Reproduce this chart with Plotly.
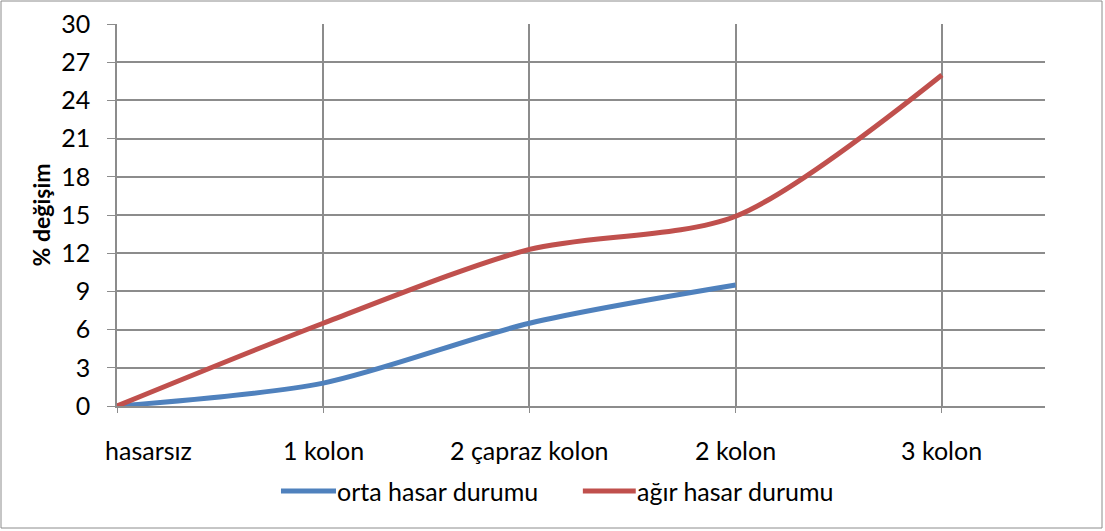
import plotly.graph_objects as go

categories = ["hasarsız", "1 kolon", "2 çapraz kolon", "2 kolon", "3 kolon"]
orta_hasar = [0, 1.8, 6.5, 9.5]
agir_hasar = [0, 6.5, 12.3, 14.9, 26.0]
y_ticks = [0, 3, 6, 9, 12, 15, 18, 21, 24, 27, 30]

FONT = "Lato"
GRID = "#8c8c8c"
BLUE = "#4F81BD"
RED = "#C0504D"

series = [
    ("orta hasar durumu", orta_hasar, BLUE),
    ("ağır hasar durumu", agir_hasar, RED),
]

fig = go.Figure()
for name, vals, color in series:
    fig.add_trace(go.Scatter(
        x=list(range(len(vals))), y=vals, mode="lines", name=name,
        line=dict(color=color, width=5, shape="spline", smoothing=0.8),
        showlegend=False))

# category labels under the axis
for i, lab in enumerate(categories):
    fig.add_annotation(x=i, y=0, xref="x", yref="y", text=lab, showarrow=False,
                       yshift=-44, xshift=31 if i == 0 else 0,
                       font=dict(family=FONT, size=25, color="#000"))

# legend: long line swatch followed by the series name
legend_slots = [(0.1767, 0.236), (0.502, 0.559)]
for (name, _, color), (sx0, sx1) in zip(series, legend_slots):
    fig.add_shape(type="line", xref="paper", yref="paper", x0=sx0, x1=sx1,
                  y0=-0.2225, y1=-0.2225, line=dict(color=color, width=5))
    fig.add_annotation(xref="paper", yref="paper", x=sx1 + 0.001, y=-0.2225,
                       xanchor="left", yanchor="middle", text=name, showarrow=False,
                       xshift=-2, font=dict(family=FONT, size=25, color="#000"))

# outer chart frame
fig.add_shape(type="rect", xref="paper", yref="paper",
              x0=-116 / 928, x1=985 / 928, y0=-122 / 382, y1=405 / 382,
              line=dict(color="#8c8c8c", width=1), layer="above")

fig.update_layout(
    width=1105, height=531,
    margin=dict(l=117, r=60, t=24, b=125),
    paper_bgcolor="white", plot_bgcolor="white",
    font=dict(family=FONT, size=25, color="#000"),
    showlegend=False,
    xaxis=dict(range=[0, 4.5], tickvals=[0, 1, 2, 3, 4], showticklabels=False,
               showgrid=True, gridcolor=GRID, gridwidth=1.5, automargin=False,
               showline=True, linecolor=GRID, linewidth=1.5, mirror=False,
               ticks="outside", ticklen=5, tickcolor=GRID, zeroline=False),
    yaxis=dict(range=[0, 30], tickvals=y_ticks, ticks="outside", ticklen=8,
               tickcolor=GRID, showgrid=True, gridcolor=GRID, gridwidth=1.5,
               showline=True, linecolor=GRID, linewidth=1.5, zeroline=False,
               ticklabelstandoff=12, automargin=False,
               tickfont=dict(family=FONT, size=25),
               title=dict(text="<b>% değişim</b>", standoff=4,
                          font=dict(family=FONT, size=23))),
)

fig.write_html("out.html")
